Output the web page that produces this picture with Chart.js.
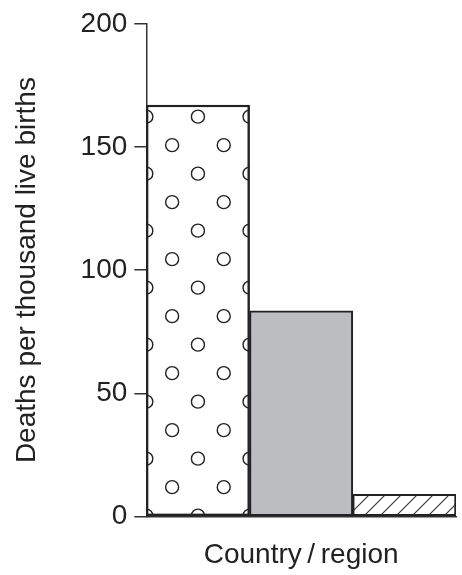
<!DOCTYPE html>
<html>
<head>
<meta charset="utf-8">
<script src="https://cdn.jsdelivr.net/npm/chart.js@4.4.1/dist/chart.umd.min.js"></script>
<style>
  html, body { margin: 0; padding: 0; background: #fff; }
  #wrap { width: 462px; height: 575px; position: relative; }
</style>
</head>
<body>
<div id="wrap"><canvas id="barChart"></canvas></div>
<script>
// data
const categories = ['Country A', 'Country B', 'Country C'];
const deathsPerThousand = [167, 83.5, 9];
const yTicks = [0, 50, 100, 150, 200];

const FONT = "'Liberation Sans', Arial, Helvetica, sans-serif";
const INK = '#222';

// diagonal hatch for the third bar
function makeHatch() {
    const c = document.createElement('canvas');
    c.width = 16; c.height = 16;
    const g = c.getContext('2d');
    g.fillStyle = '#fff';
    g.fillRect(0, 0, 16, 16);
    g.strokeStyle = '#333';
    g.lineWidth = 1.1;
    g.beginPath();
    g.moveTo(-4, 20); g.lineTo(20, -4);
    g.moveTo(-20, 20); g.lineTo(4, -4);
    g.moveTo(12, 20); g.lineTo(36, -4);
    g.stroke();
    return g.createPattern(c, 'repeat');
}

// open circles drawn over the first bar
const circleFill = {
    id: 'circleFill',
    afterDatasetsDraw(chart) {
        const bar = chart.getDatasetMeta(0).data[0];
        if (!bar) return;
        const p = bar.getProps(['x', 'y', 'base', 'width'], true);
        const left = p.x - p.width / 2, right = p.x + p.width / 2;
        const ctx = chart.ctx;
        ctx.save();
        ctx.beginPath();
        ctx.rect(left, p.y, p.width, p.base - p.y);
        ctx.clip();
        ctx.strokeStyle = INK;
        ctx.lineWidth = 1.4;
        const step = 28.5;
        let row = 0;
        for (let y = p.base; y > p.y - 10; y -= step, row++) {
            const xs = row % 2 === 0
                ? [left, left + p.width / 2, right]
                : [left + p.width / 4, left + p.width * 3 / 4];
            xs.forEach(x => {
                ctx.beginPath();
                ctx.arc(x, y, 6.5, 0, Math.PI * 2);
                ctx.stroke();
            });
        }
        ctx.restore();
        // border again on top
        ctx.save();
        ctx.strokeStyle = INK;
        ctx.lineWidth = 2;
        ctx.strokeRect(left + 1, p.y + 1, p.width - 2, p.base - p.y - 2);
        ctx.restore();
    }
};

document.addEventListener('DOMContentLoaded', () => {
    const ctx = document.getElementById('barChart').getContext('2d');

    new Chart(ctx, {
        type: 'bar',
        data: {
            labels: categories,
            datasets: [{
                data: deathsPerThousand,
                backgroundColor: ['#ffffff', '#bcbdc0', makeHatch()],
                borderColor: INK,
                borderWidth: 2,
                borderSkipped: false,
                categoryPercentage: 1,
                barPercentage: 1
            }]
        },
        plugins: [circleFill],
        options: {
            responsive: true,
            maintainAspectRatio: false,
            animation: false,
            layout: { padding: { top: 19, right: 6, bottom: 3, left: 4 } },
            plugins: {
                legend: { display: false },
                tooltip: { enabled: false }
            },
            scales: {
                x: {
                    ticks: { display: false },
                    grid: { display: false },
                    border: { display: true, color: '#333', width: 1.5 },
                    title: {
                        display: true,
                        text: 'Country\u2009/\u2009region',
                        color: INK,
                        font: { family: FONT, size: 28 },
                        padding: { top: 14, bottom: 0 }
                    }
                },
                y: {
                    min: 0,
                    max: 200,
                    afterBuildTicks: axis => { axis.ticks = yTicks.map(v => ({ value: v })); },
                    ticks: {
                        color: INK,
                        padding: 7,
                        font: { family: FONT, size: 28 }
                    },
                    grid: {
                        drawOnChartArea: false,
                        drawTicks: true,
                        tickLength: 12,
                        color: '#333',
                        lineWidth: 1.5
                    },
                    border: { display: true, color: '#333', width: 1.5 },
                    title: {
                        display: true,
                        text: 'Deaths per thousand live births',
                        color: INK,
                        font: { family: FONT, size: 28 },
                        padding: { top: 6, bottom: 30 }
                    }
                }
            }
        }
    });
});
</script>
</body>
</html>
